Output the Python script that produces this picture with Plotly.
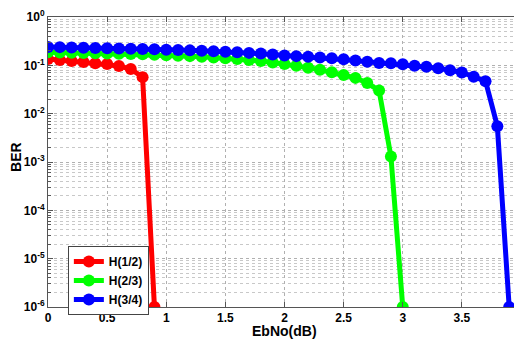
import numpy as np
import plotly.graph_objects as go

x_h12 = [0.0, 0.1, 0.2, 0.3, 0.4, 0.5, 0.6, 0.7, 0.8, 0.9]
ber_h12 = [0.135, 0.129, 0.123, 0.117, 0.111, 0.106, 0.097, 0.084, 0.057, 1e-6]

x_h23 = [round(0.1 * i, 1) for i in range(31)]
ber_h23 = [0.186, 0.184, 0.182, 0.180, 0.178, 0.176, 0.174, 0.172, 0.170, 0.166,
           0.162, 0.158, 0.155, 0.150, 0.145, 0.140, 0.135, 0.129, 0.123, 0.115,
           0.107, 0.098, 0.089, 0.081, 0.072, 0.063, 0.055, 0.043, 0.030, 1.3e-3, 1e-6]

x_h34 = [round(0.1 * i, 1) for i in range(40)]
ber_h34 = [0.240, 0.238, 0.235, 0.232, 0.229, 0.226, 0.223, 0.220, 0.217, 0.214,
           0.211, 0.208, 0.204, 0.200, 0.196, 0.192, 0.187, 0.181, 0.175, 0.168,
           0.160, 0.155, 0.150, 0.145, 0.140, 0.133, 0.126, 0.118, 0.112, 0.110,
           0.105, 0.098, 0.093, 0.087, 0.079, 0.071, 0.058, 0.047, 0.0055, 1e-6]

x_ticks = [0, 0.5, 1, 1.5, 2, 2.5, 3, 3.5, 4]
x_tick_labels = ["0", "0.5", "1", "1.5", "2", "2.5", "3", "3.5", "4"]
y_ticks = [1e-6, 1e-5, 1e-4, 1e-3, 1e-2, 1e-1, 1e0]
y_tick_labels = ["10<sup>-6</sup>", "10<sup>-5</sup>", "10<sup>-4</sup>", "10<sup>-3</sup>",
                 "10<sup>-2</sup>", "10<sup>-1</sup>", "10<sup>0</sup>"]

series = [
    ("H(1/2)", x_h12, ber_h12, "#ff0000"),
    ("H(2/3)", x_h23, ber_h23, "#00ff00"),
    ("H(3/4)", x_h34, ber_h34, "#0000ff"),
]

fig = go.Figure()
for name, xs, ys, col in series:
    fig.add_trace(go.Scatter(
        x=xs, y=ys, name=name, mode="lines+markers",
        line=dict(color=col, width=5),
        marker=dict(color=col, size=12),
    ))

font_fam = "Liberation Sans, Arial, sans-serif"
fig.update_layout(
    width=514, height=331,
    margin=dict(l=40, r=1, t=9, b=32, pad=0, autoexpand=False),
    paper_bgcolor="white", plot_bgcolor="white",
    font=dict(family=font_fam, size=12, color="black", weight="bold"),
    showlegend=True,
    legend=dict(
        x=0.042, y=0.21, xanchor="left", yanchor="top",
        bgcolor="white", bordercolor="#444444", borderwidth=1,
        font=dict(family=font_fam, size=12, color="black", weight="bold"),
        tracegroupgap=0, itemwidth=30,
    ),
    xaxis=dict(
        range=[0, 4], tickvals=x_ticks, ticktext=x_tick_labels,
        showgrid=True, gridcolor="#b0b0b0", griddash="dot", gridwidth=1,
        ticks="inside", ticklen=5, tickcolor="#555555",
        showline=True, linecolor="#555555", mirror="ticks",
        zeroline=False, automargin=False, ticklabeloverflow="allow",
        tickfont=dict(size=12, weight="bold"),
    ),
    yaxis=dict(
        type="log", range=[-6, 0], tickvals=y_ticks, ticktext=y_tick_labels,
        showgrid=True, gridcolor="#b0b0b0", griddash="dot", gridwidth=1,
        ticks="inside", ticklen=5, tickcolor="#555555",
        showline=True, linecolor="#555555", mirror="ticks",
        zeroline=False, automargin=False, ticklabeloverflow="allow",
        minor=dict(dtick="D1", showgrid=True, gridcolor="#c8c8c8", griddash="dot",
                   ticks="inside", ticklen=3, tickcolor="#555555"),
        tickfont=dict(size=12, weight="bold"),
    ),
    annotations=[
        dict(text="EbNo(dB)", xref="paper", yref="paper", x=0.5, y=-0.082,
             xanchor="center", yanchor="middle", showarrow=False,
             font=dict(family=font_fam, size=14, color="black", weight="bold")),
        dict(text="BER", xref="paper", yref="paper", x=-0.068, y=0.517,
             xanchor="center", yanchor="middle", showarrow=False, textangle=-90,
             font=dict(family=font_fam, size=14, color="black", weight="bold")),
    ],
)

fig.write_html("out.html")
